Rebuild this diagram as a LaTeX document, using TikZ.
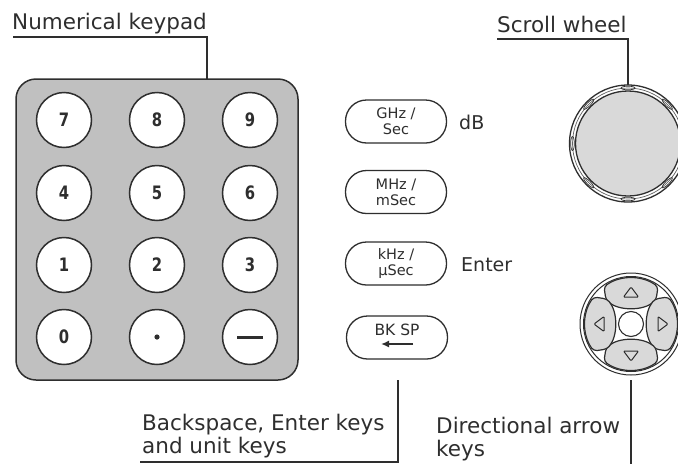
\documentclass[tikz,border=0pt]{standalone}
\usepackage{fontspec}
\setmainfont{DejaVu Sans}
\newfontfamily\keydigits[FakeStretch=0.8]{DejaVu Sans Bold}
\usetikzlibrary{arrows.meta}
\definecolor{ink}{HTML}{2E2E2E}
\definecolor{padgray}{HTML}{C0C0C0}
\definecolor{keygray}{HTML}{D9D9D9}
\begin{document}
\begin{tikzpicture}[x=1pt,y=-1pt,
  leader/.style={draw=ink, line width=1.6pt},
  lbl/.style={font=\fontsize{21.5}{24}\selectfont, text=ink, inner sep=0pt, anchor=base west},
  numkey/.style={circle, draw=ink, line width=1.5pt, fill=white, minimum size=55pt, inner sep=0pt, font=\fontsize{18.5}{18.5}\keydigits, text=ink},
  unitkey/.style={rectangle, rounded corners=21pt, draw=ink, line width=1.3pt, fill=white, minimum width=101pt, minimum height=43pt, inner sep=0pt, align=center, font=\fontsize{14.5}{16}\selectfont, text=ink},
  sidelbl/.style={font=\fontsize{19}{19}\selectfont, text=ink, inner sep=0pt, anchor=west},
  petal/.style={draw=ink, line width=1.2pt, fill=keygray, rounded corners=3.5pt},
  tri/.style={draw=ink, line width=1pt, rounded corners=1pt},
]
\useasboundingbox (0,0) rectangle (678,464);

% keypad body
\node[draw=ink, line width=1.5pt, fill=padgray, rounded corners=20pt, minimum width=282pt, minimum height=301pt, inner sep=0pt] (pad) at (157,229.5) {};

% number keys
\node[numkey] (k7) at (64,120) {7};
\node[numkey] (k8) at (157,120) {8};
\node[numkey] (k9) at (250,120) {9};
\node[numkey] (k4) at (64,193) {4};
\node[numkey] (k5) at (157,193) {5};
\node[numkey] (k6) at (250,193) {6};
\node[numkey] (k1) at (64,265) {1};
\node[numkey] (k2) at (157,265) {2};
\node[numkey] (k3) at (250,265) {3};
\node[numkey] (k0) at (64,337) {0};
\node[numkey] (kdot) at (157,337) {};
\fill[ink] (kdot.center) circle (2.6pt);
\node[numkey] (kminus) at (250,337) {};
\draw[ink, line width=3pt] ([xshift=-13pt]kminus.center) -- ([xshift=13pt]kminus.center);

% unit keys
\node[unitkey] (ghz) at (396,121.5) {GHz /\\Sec};
\node[unitkey] (mhz) at (396,192) {MHz /\\mSec};
\node[unitkey] (khz) at (396,263.5) {kHz /\\µSec};
\node[unitkey] (bksp) at (397,337.5) {};
\node[font=\fontsize{15.5}{15.5}\selectfont, text=ink, inner sep=0pt] (bktxt) at (397,329.5) {BK SP};
\coordinate (bkA) at (413,344);
\coordinate (bkB) at (381,344);
\draw[ink, line width=1.6pt, -{Latex[length=8pt,width=7pt]}] (bkA) -- (bkB);

\node[sidelbl] (db) at (459,122) {dB};
\node[sidelbl] (enter) at (461,265) {Enter};

% scroll wheel
\node[circle, minimum size=117pt, inner sep=0pt] (wheel) at (628,143.5) {};
\begin{scope}[shift={(628,143.5)}, yscale=-1]
  \draw[ink, line width=1.3pt, fill=white] (0,0) circle (58.5);
  \draw[ink!75, line width=0.7pt] (0,0) circle (55.5);
  \foreach \a in {0,45,...,315}
    \draw[ink, line width=0.7pt, rotate=\a] (0,55.5) ellipse [x radius=7, y radius=1.8];
  \draw[ink, line width=1.3pt, fill=keygray] (0,0) circle (52.5);
\end{scope}

% directional pad
\node[circle, minimum size=102pt, inner sep=0pt] (dpad) at (631,324) {};
\begin{scope}[shift={(631,324)}, yscale=-1]
  \draw[ink, line width=1pt, fill=white] (0,0) circle (51);
  \draw[ink, line width=1pt] (0,0) circle (47.5);
  \foreach \a in {0,90,180,270}{
    \draw[petal, rotate=\a] (126:46) arc[start angle=126, end angle=54, radius=46] -- (25,24) .. controls (12,13) and (-12,13) .. (-25,24) -- cycle;
    \draw[tri, rotate=\a] (-7.5,27) -- (7.5,27) -- (0,37) -- cycle;
  }
  \draw[ink, line width=1.1pt, fill=white] (0,0) circle (12.5);
\end{scope}

% labels and leaders
\node[lbl] (numlbl) at (12,29) {Numerical keypad};
\coordinate (nkA) at (13,37);
\coordinate (nkB) at (207,79);
\draw[leader] (nkA) -| (nkB);

\node[lbl] (swlbl) at (497,32) {Scroll wheel};
\coordinate (swA) at (497,39);
\draw[leader] (swA) -| (wheel.north);

\node[lbl] (bs1) at (142,430) {Backspace, Enter keys};
\node[lbl] (bs2) at (142,453) {and unit keys};
\coordinate (bsA) at (140,462);
\coordinate (bsB) at (398,380);
\draw[leader] (bsA) -| (bsB);

\node[lbl] (da1) at (436,433) {Directional arrow};
\node[lbl] (da2) at (436,456) {keys};
\coordinate (daA) at (631,380);
\coordinate (daB) at (631,464);
\draw[leader] (daA) -- (daB);
\end{tikzpicture}
\end{document}
